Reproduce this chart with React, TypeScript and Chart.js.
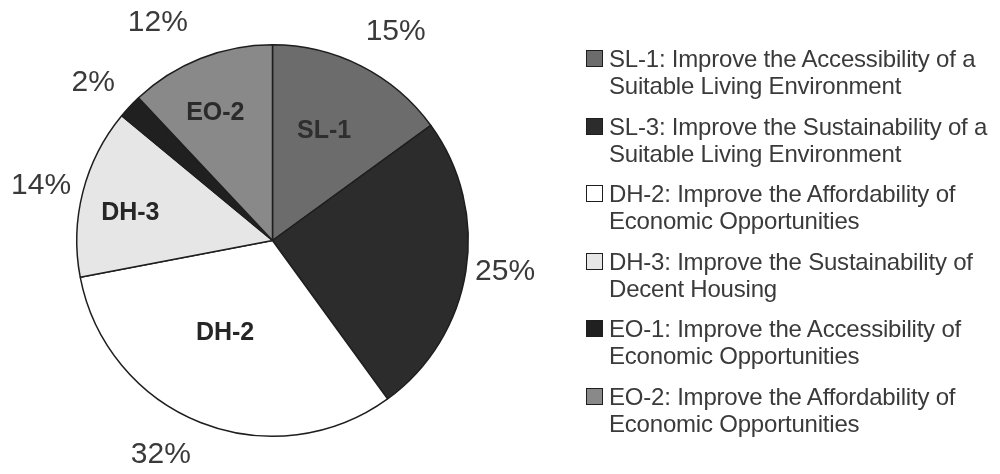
import React, { useEffect, useRef } from "react";
import { Chart, registerables } from "chart.js";

Chart.register(...registerables);

const codes = ["SL-1", "SL-3", "DH-2", "DH-3", "EO-1", "EO-2"];
const descriptions = [
  "Improve the Accessibility of a\nSuitable Living Environment",
  "Improve the Sustainability of a\nSuitable Living Environment",
  "Improve the Affordability of\nEconomic Opportunities",
  "Improve the Sustainability of\nDecent Housing",
  "Improve the Accessibility of\nEconomic Opportunities",
  "Improve the Affordability of\nEconomic Opportunities",
];
const percents = [15, 25, 32, 14, 2, 12];
const showInnerLabel = [true, false, true, true, false, true];

// styling / label placement config (not data)
const sliceColors = ["#6c6c6c", "#2c2c2c", "#ffffff", "#e6e6e6", "#202020", "#898989"];
const innerLabelColors = ["#2e2e2e", "#ffffff", "#262626", "#262626", "#ffffff", "#2a2a2a"];
const innerLabelPlacement: Record<string, { f: number; nudge: number }> = {
  "SL-1": { f: 0.62, nudge: -1.8 },
  "DH-2": { f: 0.53, nudge: 5.6 },
  "DH-3": { f: 0.74, nudge: -3.4 },
  "EO-2": { f: 0.715, nudge: -2.5 },
};
const outerLabelPlacement: Record<string, { d: number; nudge: number }> = {
  "SL-1": { d: 47, nudge: 3.5 },
  "SL-3": { d: 39, nudge: -1.3 },
  "DH-2": { d: 46, nudge: 5.9 },
  "DH-3": { d: 42, nudge: -1.2 },
  "EO-1": { d: 43, nudge: -1.9 },
  "EO-2": { d: 50, nudge: -6.2 },
};
const FONT = "'Liberation Sans', Arial, sans-serif";
const DEG = Math.PI / 180;

const labelPlugin = {
  id: "sliceLabels",
  afterDatasetsDraw(chart: any) {
    const ctx = chart.ctx;
    const meta = chart.getDatasetMeta(0);
    ctx.save();
    ctx.textAlign = "center";
    ctx.textBaseline = "middle";
    meta.data.forEach((arc: any, i: number) => {
      const { x, y, startAngle, endAngle, outerRadius } = arc.getProps(
        ["x", "y", "startAngle", "endAngle", "outerRadius"],
        true
      );
      const mid = (startAngle + endAngle) / 2;
      const op = outerLabelPlacement[codes[i]] ?? { d: 44, nudge: 0 };
      const ao = mid + op.nudge * DEG;
      const ro = outerRadius + op.d;
      ctx.fillStyle = "#3a3a3a";
      ctx.font = `30px ${FONT}`;
      ctx.fillText(`${percents[i]}%`, x + Math.cos(ao) * ro, y + Math.sin(ao) * ro);
      if (showInnerLabel[i]) {
        const ip = innerLabelPlacement[codes[i]] ?? { f: 0.65, nudge: 0 };
        const ai = mid + ip.nudge * DEG;
        const ri = outerRadius * ip.f;
        ctx.fillStyle = innerLabelColors[i];
        ctx.font = `bold 25px ${FONT}`;
        ctx.fillText(codes[i], x + Math.cos(ai) * ri, y + Math.sin(ai) * ri);
      }
    });
    ctx.restore();
  },
};

export default function App() {
  const canvasRef = useRef<HTMLCanvasElement | null>(null);

  useEffect(() => {
    if (!canvasRef.current) return;
    const chart = new Chart(canvasRef.current, {
      type: "pie",
      data: {
        labels: codes,
        datasets: [
          {
            data: percents,
            backgroundColor: sliceColors,
            borderColor: "#1e1e1e",
            borderWidth: 1.5,
          },
        ],
      },
      options: {
        animation: false,
        responsive: true,
        maintainAspectRatio: false,
        layout: { padding: { left: 76, top: 44, right: 531, bottom: 37 } },
        plugins: {
          legend: { display: false },
          tooltip: { enabled: false },
        },
      },
      plugins: [labelPlugin],
    });
    return () => chart.destroy();
  }, []);

  return (
    <div
      style={{
        position: "absolute",
        left: 0,
        top: 0,
        width: 1000,
        height: 474,
        background: "#ffffff",
        overflow: "hidden",
      }}
    >
      <canvas ref={canvasRef} style={{ position: "absolute", left: 0, top: 0 }} />
      {codes.map((code, i) => (
        <div
          key={code}
          style={{
            position: "absolute",
            left: 586,
            top: 45 + i * 67.6,
            width: 410,
            display: "flex",
            alignItems: "flex-start",
            fontFamily: FONT,
            fontSize: 24,
            lineHeight: "27px",
            color: "#3a3a3a",
            letterSpacing: "-0.2px",
          }}
        >
          <span
            style={{
              display: "inline-block",
              width: 15,
              height: 15,
              marginTop: 5,
              marginRight: 6,
              flex: "0 0 auto",
              background: sliceColors[i],
              border: "1.5px solid #1e1e1e",
            }}
          />
          <span style={{ whiteSpace: "pre-line" }}>{`${code}: ${descriptions[i]}`}</span>
        </div>
      ))}
    </div>
  );
}
